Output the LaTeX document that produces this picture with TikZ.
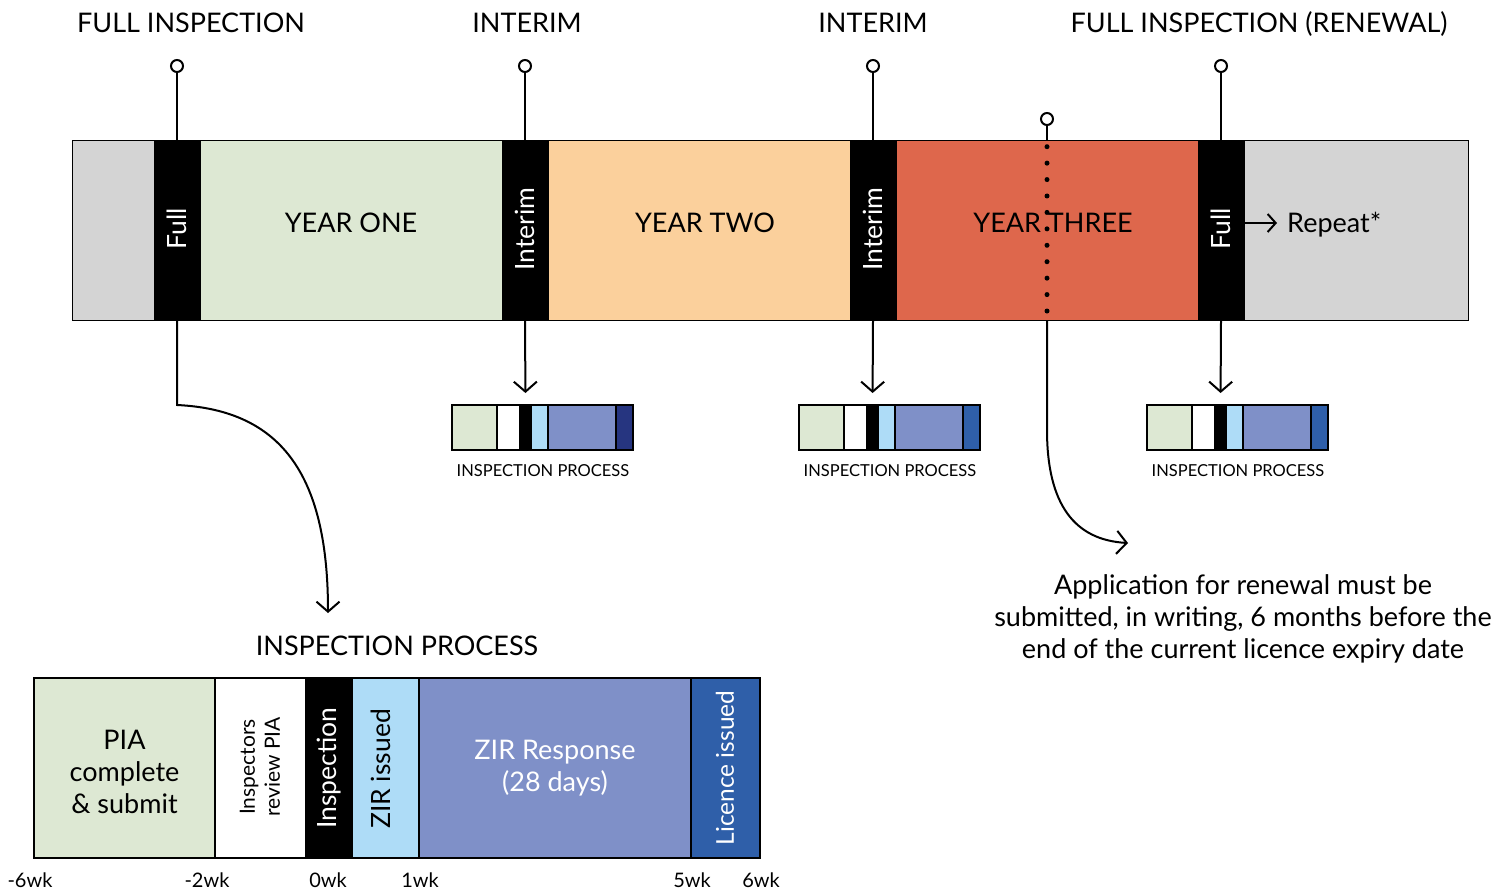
\documentclass[tikz,border=0pt]{standalone}
\usepackage{fontspec}
\setmainfont{Lato}
\usetikzlibrary{arrows.meta}
\definecolor{cgrey}{HTML}{D4D4D4}
\definecolor{cgreen}{HTML}{DDE8D3}
\definecolor{corange}{HTML}{FBD09C}
\definecolor{cred}{HTML}{DE674C}
\definecolor{clblue}{HTML}{AEDCF7}
\definecolor{cperi}{HTML}{7F90C8}
\definecolor{cblue}{HTML}{2F5FA9}
\definecolor{cnavy}{HTML}{263580}
\begin{document}
\begin{tikzpicture}[x=1pt,y=-1pt,
  seg/.style={draw=black, line width=1pt, minimum height=180pt, inner sep=0pt, outer sep=0pt, anchor=north west},
  mseg/.style={draw=black, line width=1.3pt, minimum height=45pt, inner sep=0pt, outer sep=0pt, anchor=north west},
  bseg/.style={draw=black, line width=2pt, minimum height=180pt, inner sep=0pt, outer sep=0pt, anchor=north west},
  pinc/.style={circle, draw=black, fill=white, line width=2pt, minimum size=12pt, inner sep=0pt},
  conn/.style={line width=2pt},
  arr/.style={line width=2pt, -{Straight Barb[length=10pt,width=23pt,line width=2pt]}},
  big/.style={font=\fontsize{27}{32}\selectfont, inner sep=0pt},
  small/.style={font=\fontsize{16.5}{19}\selectfont, inner sep=0pt},
  tick/.style={font=\fontsize{20}{22}\selectfont, inner sep=0pt, anchor=base},
  rot/.style={rotate=90, inner sep=0pt, font=\fontsize{26.5}{31}\selectfont}
]
\useasboundingbox (0,0) rectangle (1511,892);
% main bar
\node[seg, fill=cgrey, minimum width=82pt] (g0) at (72,140) {};
\node[seg, fill=black, minimum width=46pt] (f1) at (154,140) {};
\node[seg, fill=cgreen, minimum width=302pt] (y1) at (200,140) {};
\node[seg, fill=black, minimum width=46pt] (i1) at (502,140) {};
\node[seg, fill=corange, minimum width=302pt] (y2) at (548,140) {};
\node[seg, fill=black, minimum width=46pt] (i2) at (850,140) {};
\node[seg, fill=cred, minimum width=302pt] (y3) at (896,140) {};
\node[seg, fill=black, minimum width=46pt] (f2) at (1198,140) {};
\node[seg, fill=cgrey, minimum width=224pt] (g1) at (1244,140) {};
% bar texts
\node[rot, white] (tf1) at (177,229) {Full};
\node[rot, white] (ti1) at (525,229) {Interim};
\node[rot, white] (ti2) at (873,229) {Interim};
\node[rot, white] (tf2) at (1221,229) {Full};
\node[big, anchor=base] (ty1) at (351,232) {YEAR ONE};
\node[big, anchor=base] (ty2) at (705,232) {YEAR TWO};
\node[big, anchor=base] (ty3) at (1053,232) {YEAR THREE};
\node[big, anchor=base west] (rep) at (1287,232) {Repeat*};
\coordinate (repa) at (1277,223);
\draw[line width=2pt, -{Straight Barb[length=8pt,width=18pt,line width=2pt]}] (f2.east |- repa) -- (repa);
% top labels and pins
\node[big, anchor=base] (l1) at (191,32) {FULL INSPECTION};
\node[big, anchor=base] (l2) at (527,32) {INTERIM};
\node[big, anchor=base] (l3) at (873,32) {INTERIM};
\node[big, anchor=base] (l4) at (1259,32) {FULL INSPECTION (RENEWAL)};
\node[pinc] (p1) at (177,66) {};
\node[pinc] (p2) at (525,66) {};
\node[pinc] (p3) at (873,66) {};
\node[pinc] (p4) at (1221,66) {};
\node[pinc] (p5) at (1047,119) {};
\draw[conn] (p1) -- (f1.north);
\draw[conn] (p2) -- (i1.north);
\draw[conn] (p3) -- (i2.north);
\draw[conn] (p4) -- (f2.north);
\draw[conn] (p5) -- (p5 |- y3.north);
\draw[line width=5pt, line cap=round, dash pattern=on 0pt off 16.43pt] (1047,146.7) -- (1047,311.5);
% mini bars
\foreach \n/\x/\last in {a/452/cnavy, b/799/cblue, c/1147/cblue} {
  \node[mseg, fill=cgreen, minimum width=45pt] (\n1) at (\x,405) {};
  \node[mseg, fill=white, minimum width=23pt] (\n2) at (\x+45,405) {};
  \node[mseg, fill=black, minimum width=11pt] (\n3) at (\x+68,405) {};
  \node[mseg, fill=clblue, minimum width=17pt] (\n4) at (\x+79,405) {};
  \node[mseg, fill=cperi, minimum width=68pt] (\n5) at (\x+96,405) {};
  \node[mseg, fill=\last, minimum width=17pt] (\n6) at (\x+164,405) {};
  \node[small, anchor=base] (\n t) at (\x+91,476) {INSPECTION PROCESS};
}
\draw[arr, shorten >=12pt] (i1.south) -- (a3.north);
\draw[arr, shorten >=12pt] (i2.south) -- (b3.north);
\draw[arr, shorten >=12pt] (f2.south) -- (c3.north);
% curved connectors
\coordinate (e1) at (328,613);
\draw[arr] (f1.south) -- (177,405) .. controls (285,410) and (328,480) .. (e1);
\coordinate (e2) at (1128,543);
\draw[arr] (y3.south -| p5) -- (1047,430) .. controls (1047,505) and (1075,540) .. (e2);
% note
\node[big, align=center, anchor=base] (note) at (1243,658) {Application for renewal must be\\submitted, in writing, 6 months before the\\end of the current licence expiry date};
% bottom bar
\node[big, anchor=base] (bt) at (397,655) {INSPECTION PROCESS};
\node[bseg, fill=cgreen, minimum width=181pt] (b1) at (34,678) {};
\node[bseg, fill=white, minimum width=91pt] (b2) at (215,678) {};
\node[bseg, fill=black, minimum width=46pt] (b3) at (306,678) {};
\node[bseg, fill=clblue, minimum width=67pt] (b4) at (352,678) {};
\node[bseg, fill=cperi, minimum width=272pt] (b5) at (419,678) {};
\node[bseg, fill=cblue, minimum width=69pt] (b6) at (691,678) {};
\node[big, align=center, font=\fontsize{27}{32}\selectfont] (tb1) at (124.5,772) {PIA\\complete\\\& submit};
\node[rot, align=center, font=\fontsize{21}{25}\selectfont] (tb2) at (260,767) {Inspectors\\review PIA};
\node[rot, white] (tb3) at (329,768) {Inspection};
\node[rot] (tb4) at (381,769) {ZIR issued};
\node[big, align=center, white, font=\fontsize{27}{32}\selectfont] (tb5) at (555,768) {ZIR Response\\(28 days)};
\node[rot, white, font=\fontsize{24.5}{30}\selectfont] (tb6) at (725,768) {Licence issued};
% ticks
\node[tick] (k1) at (30,887) {-6wk};
\node[tick] (k2) at (207,887) {-2wk};
\node[tick] (k3) at (328,887) {0wk};
\node[tick] (k4) at (420,887) {1wk};
\node[tick] (k5) at (692,887) {5wk};
\node[tick] (k6) at (761,887) {6wk};
\end{tikzpicture}
\end{document}
